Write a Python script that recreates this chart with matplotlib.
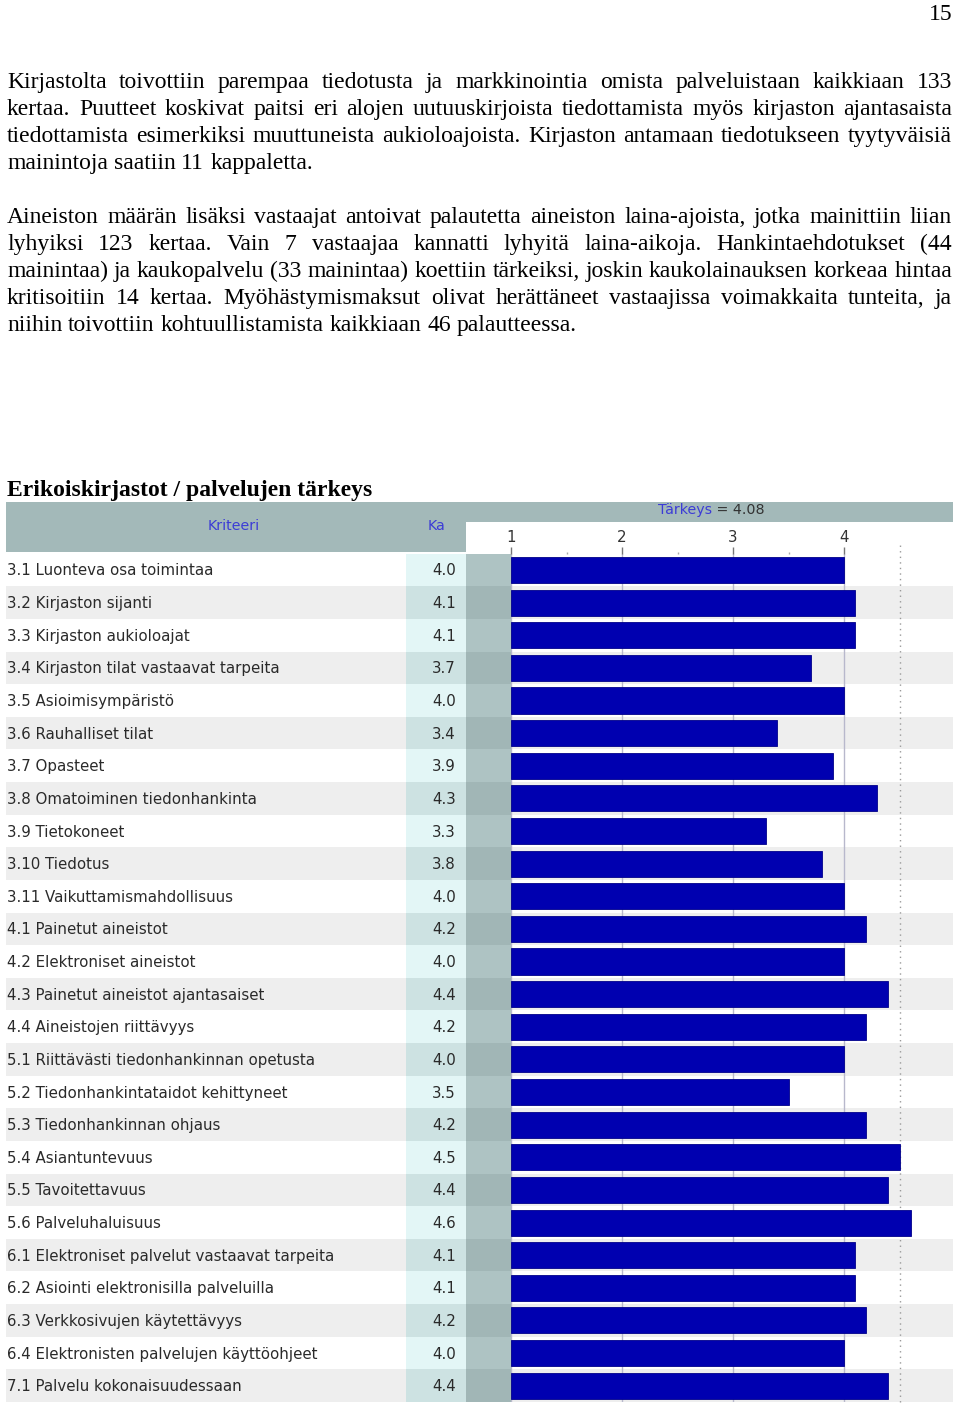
import matplotlib
matplotlib.use("Agg")
import matplotlib.pyplot as plt
from matplotlib.patches import Rectangle

W, H = 960, 1409

# ---------------- data ----------------
criteria = [
    "3.1 Luonteva osa toimintaa",
    "3.2 Kirjaston sijanti",
    "3.3 Kirjaston aukioloajat",
    "3.4 Kirjaston tilat vastaavat tarpeita",
    "3.5 Asioimisympäristö",
    "3.6 Rauhalliset tilat",
    "3.7 Opasteet",
    "3.8 Omatoiminen tiedonhankinta",
    "3.9 Tietokoneet",
    "3.10 Tiedotus",
    "3.11 Vaikuttamismahdollisuus",
    "4.1 Painetut aineistot",
    "4.2 Elektroniset aineistot",
    "4.3 Painetut aineistot ajantasaiset",
    "4.4 Aineistojen riittävyys",
    "5.1 Riittävästi tiedonhankinnan opetusta",
    "5.2 Tiedonhankintataidot kehittyneet",
    "5.3 Tiedonhankinnan ohjaus",
    "5.4 Asiantuntevuus",
    "5.5 Tavoitettavuus",
    "5.6 Palveluhaluisuus",
    "6.1 Elektroniset palvelut vastaavat tarpeita",
    "6.2 Asiointi elektronisilla palveluilla",
    "6.3 Verkkosivujen käytettävyys",
    "6.4 Elektronisten palvelujen käyttöohjeet",
    "7.1 Palvelu kokonaisuudessaan",
]
ka = [4.0, 4.1, 4.1, 3.7, 4.0, 3.4, 3.9, 4.3, 3.3, 3.8, 4.0, 4.2, 4.0, 4.4,
      4.2, 4.0, 3.5, 4.2, 4.5, 4.4, 4.6, 4.1, 4.1, 4.2, 4.0, 4.4]
scale_ticks = [1, 2, 3, 4]
minor_ticks = [1.5, 2.5, 3.5]
dotted_ref = 4.5
importance_mean = 4.08

page_number = "15"
title = "Erikoiskirjastot / palvelujen tärkeys"
para1 = [
    "Kirjastolta toivottiin parempaa tiedotusta ja markkinointia omista palveluistaan kaikkiaan 133",
    "kertaa. Puutteet koskivat paitsi eri alojen uutuuskirjoista tiedottamista myös kirjaston ajantasaista",
    "tiedottamista esimerkiksi muuttuneista aukioloajoista. Kirjaston antamaan tiedotukseen tyytyväisiä",
    "mainintoja saatiin 11 kappaletta.",
]
para2 = [
    "Aineiston määrän lisäksi vastaajat antoivat palautetta aineiston laina-ajoista, jotka mainittiin liian",
    "lyhyiksi 123 kertaa. Vain 7 vastaajaa kannatti lyhyitä laina-aikoja. Hankintaehdotukset (44",
    "mainintaa) ja kaukopalvelu (33 mainintaa) koettiin tärkeiksi, joskin kaukolainauksen korkeaa hintaa",
    "kritisoitiin 14 kertaa. Myöhästymismaksut olivat herättäneet vastaajissa voimakkaita tunteita, ja",
    "niihin toivottiin kohtuullistamista kaikkiaan 46 palautteessa.",
]

# ---------------- styles ----------------
SERIF = ["Liberation Serif", "DejaVu Serif"]
SANS = ["DejaVu Sans"]
FS_BODY = 17
FS_TAB = 10.8
HEAD_GRAY = "#a3b9b9"
ROW_GRAY = "#eeeeee"
KA_LIGHT = "#e3f6f6"
KA_DARK = "#cde2e2"
COL_LIGHT = "#aec3c3"
COL_DARK = "#a1b6b6"
BAR = "#0000b0"
BLUE_TXT = "#3c3cd6"

fig = plt.figure(figsize=(W / 100, H / 100), dpi=100)
fig.patch.set_facecolor("white")
renderer = fig.canvas.get_renderer()


def fx(x):
    return x / W


def fy(y):
    return 1 - y / H


def px_axes(x0, y0, x1, y1, **kw):
    return fig.add_axes([fx(x0), fy(y1), (x1 - x0) / W, (y1 - y0) / H], **kw)


def text_w(s, **kw):
    t = fig.text(0, 0, s, **kw)
    w = t.get_window_extent(renderer).width
    t.remove()
    return w


# ---------------- paragraphs (justified) ----------------
space_w = text_w("x x", fontsize=FS_BODY, family=SERIF) - text_w("xx", fontsize=FS_BODY, family=SERIF)


def justify(line, y, x0=7, x1=952, last=False):
    words = line.split()
    ts = [fig.text(0, fy(y), w, fontsize=FS_BODY, family=SERIF, va="baseline",
                   color="black") for w in words]
    ws = [t.get_window_extent(renderer).width for t in ts]
    if last or len(words) == 1:
        gap = space_w
    else:
        gap = (x1 - x0 - sum(ws)) / (len(words) - 1)
    x = x0
    for t, w in zip(ts, ws):
        t.set_x(fx(x))
        x += w + gap


for i, line in enumerate(para1):
    justify(line, 88 + 27 * i, last=(i == len(para1) - 1))
for i, line in enumerate(para2):
    justify(line, 223 + 27 * i, last=(i == len(para2) - 1))

fig.text(fx(953), fy(20), page_number, fontsize=FS_BODY, family=SERIF,
         ha="right", va="baseline")
fig.text(fx(7), fy(496), title, fontsize=FS_BODY, family=SERIF,
         fontweight="bold", ha="left", va="baseline")

# ---------------- table geometry ----------------
TX0, TX1 = 6, 953
ROW_TOP, ROW_BOT = 553.7, 1402
KA_X0, KA_X1 = 406, 466
COL_X1 = 511
n = len(criteria)

# header
hdr = px_axes(TX0, 502, TX1, ROW_TOP)
hdr.set_xlim(TX0, TX1)
hdr.set_ylim(ROW_TOP, 502)
hdr.axis("off")
hdr.add_patch(Rectangle((TX0, 502), KA_X1 - TX0, ROW_TOP - 502 - 1.5, color=HEAD_GRAY, lw=0))
hdr.add_patch(Rectangle((KA_X1, 502), TX1 - KA_X1, 20, color=HEAD_GRAY, lw=0))
hdr.text(234, 526, "Kriteeri", color=BLUE_TXT, fontsize=FS_TAB - 0.5, family=SANS,
         ha="center", va="center")
hdr.text(437, 526, "Ka", color=BLUE_TXT, fontsize=FS_TAB - 0.5, family=SANS,
         ha="center", va="center")
t1 = hdr.text(0, 510, "Tärkeys", color=BLUE_TXT, fontsize=FS_TAB - 0.5, family=SANS,
              ha="left", va="center")
t2 = hdr.text(0, 510, f" = {importance_mean:.2f}", color="#333333", fontsize=FS_TAB - 0.5,
              family=SANS, ha="left", va="center")
w1 = t1.get_window_extent(renderer).width
w2 = t2.get_window_extent(renderer).width
xs = 711 - (w1 + w2) / 2
t1.set_x(xs)
t2.set_x(xs + w1)

# table body backgrounds
tab = px_axes(TX0, ROW_TOP, TX1, ROW_BOT)
tab.set_xlim(TX0, TX1)
tab.set_ylim(n - 0.5, -0.5)
tab.axis("off")
for i, (name, v) in enumerate(zip(criteria, ka)):
    dark = (i % 2 == 1)
    if dark:
        tab.add_patch(Rectangle((TX0, i - 0.5), TX1 - TX0, 1, color=ROW_GRAY, lw=0))
    tab.add_patch(Rectangle((KA_X0, i - 0.5), KA_X1 - KA_X0, 1,
                            color=KA_DARK if dark else KA_LIGHT, lw=0))
    tab.add_patch(Rectangle((KA_X1, i - 0.5), COL_X1 - KA_X1, 1,
                            color=COL_DARK if dark else COL_LIGHT, lw=0))
    tab.text(7, i + 0.03, name, fontsize=FS_TAB, family=SANS, color="#2a2a2a",
             ha="left", va="center")
    tab.text(456, i + 0.03, f"{v:.1f}", fontsize=FS_TAB, family=SANS, color="#2a2a2a",
             ha="right", va="center")

# bar axes with value scale
PX_PER_UNIT = 111.0
X_AT_1 = 511.0
ax = px_axes(COL_X1, ROW_TOP, TX1, ROW_BOT)
ax.patch.set_alpha(0)
ax.set_xlim(1, 1 + (TX1 - X_AT_1) / PX_PER_UNIT)
ax.set_ylim(n - 0.5, -0.5)
for s in ax.spines.values():
    s.set_visible(False)
ax.set_yticks([])
ax.set_xticks(scale_ticks)
ax.set_xticks(minor_ticks, minor=True)
ax.xaxis.set_ticks_position("top")
ax.tick_params(axis="x", which="major", top=True, labeltop=True, bottom=False,
               labelbottom=False, direction="out", length=5, width=1, color="#777777",
               pad=1, labelsize=FS_TAB, labelcolor="#333333")
ax.tick_params(axis="x", which="minor", top=True, bottom=False, direction="out",
               length=1.5, width=1, color="#aaaaaa")
for lbl in ax.get_xticklabels():
    lbl.set_family(SANS)
ax.grid(axis="x", which="major", color="#b8b8cc", lw=1)
ax.set_axisbelow(True)
ax.axvline(dotted_ref, color="#9a9a9a", lw=1, ls=(0, (1, 3)), ymin=0, ymax=1.01,
           zorder=0.5, clip_on=False)
ax.barh(range(n), [v - 1 for v in ka], left=1, height=0.8, color=BAR,
        edgecolor="#00008a", lw=0.6, zorder=2)

fig.savefig("out.png", dpi=100)
